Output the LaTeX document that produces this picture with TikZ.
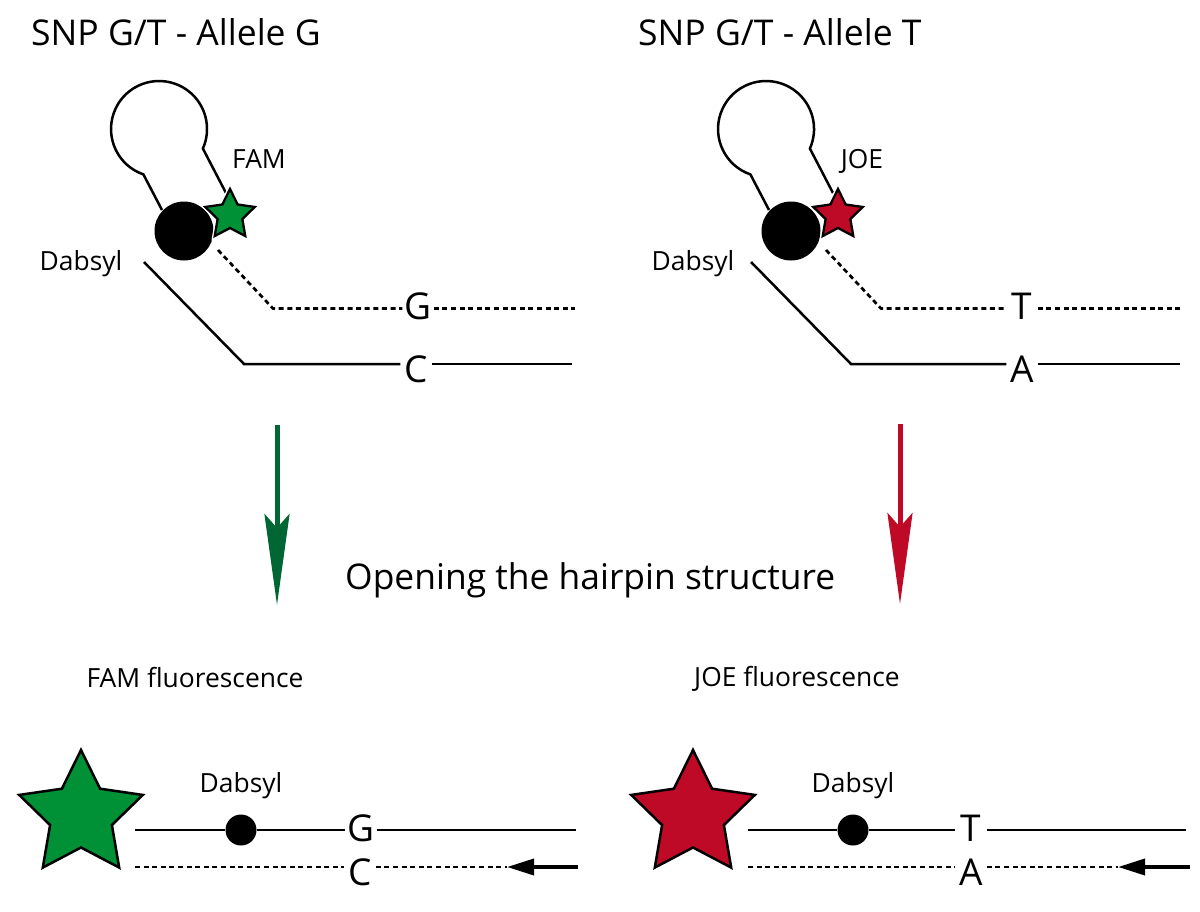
\documentclass[tikz,border=0pt]{standalone}
\usepackage{fontspec}
\setmainfont{Open Sans}
\usetikzlibrary{arrows.meta,shapes.geometric}
\definecolor{stargreen}{HTML}{009036}
\definecolor{starred}{HTML}{BE0A26}
\definecolor{arrowgreen}{HTML}{006633}
\tikzset{
  x=1pt,y=1pt,
  strand/.style={line width=2.5pt},
  dstrand/.style={line width=2.7pt,dash pattern=on 5pt off 3.6pt},
  bigtxt/.style={font=\fontsize{35.5}{40}\selectfont,anchor=base west,inner sep=0pt},
  midtxt/.style={font=\fontsize{35.4}{42}\selectfont,anchor=base west,inner sep=0pt},
  smalltxt/.style={font=\fontsize{26.4}{30}\selectfont,anchor=base,inner sep=0pt},
  letter/.style={font=\fontsize{37}{42}\selectfont,inner sep=0pt,minimum width=31pt},
  halo/.style={star,star points=5,star point ratio=2,minimum size=52pt,inner sep=0pt,draw=white,line width=5pt,fill=white},
  smallstar/.style={star,star points=5,star point ratio=2,minimum size=52pt,inner sep=0pt,draw=black,line width=2.3pt},
  bigstar/.style={star,star points=5,star point ratio=2,minimum size=130pt,inner sep=0pt,draw=black,line width=2.5pt},
  bigdot/.style={circle,fill=black,inner sep=0pt,minimum size=59pt},
  smalldot/.style={circle,fill=black,inner sep=0pt,minimum size=31pt},
  flow/.style={line width=5pt,-{Stealth[length=91pt,width=25pt,inset=14pt]}},
  primer/.style={line width=3.6pt,-{Stealth[length=27pt,width=16pt,inset=0pt]}},
}
\begin{document}
\begin{tikzpicture}
\useasboundingbox (0,-911) rectangle (1200,0);
% ---------- titles ----------
\node[bigtxt] (tl) at (31,-45) {SNP G/T - Allele G};
\node[bigtxt] (tr) at (638,-45) {SNP G/T - Allele T};
\node[midtxt] (mid) at (345,-589) {Opening the hairpin structure};
% ---------- left hairpin ----------
\draw[strand] (162,-210) -- (143.4,-174.4) arc[start angle=251,end angle=-24,delta angle=-275,radius=48] -- (226,-193);
\node[bigdot] (lq) at (184,-231) {};
\node[halo] (lh) at (230,-215) {};
\node[smallstar,fill=stargreen] (ls) at (230,-215) {};
\node[smalltxt] (lfam) at (259,-168) {FAM};
\node[smalltxt] (ldab) at (81,-270) {Dabsyl};
\node[letter] (lG) at (418,-306) {G};
\node[letter] (lC) at (416,-369) {C};
\coordinate (la) at (218,-250); \coordinate (lb) at (273,-308.5); \coordinate (lc) at (575,-308.5);
\coordinate (ld) at (144,-262); \coordinate (le) at (244,-364); \coordinate (lf) at (572,-364);
\draw[dstrand] (la) -- (lb) -- (lb -| lG.west);
\draw[dstrand] (lb -| lG.east) -- (lc);
\draw[strand] (ld) -- (le) -- (le -| lC.west);
\draw[strand] (le -| lC.east) -- (lf);
% ---------- right hairpin ----------
\draw[strand] (769,-210) -- (750.4,-174.4) arc[start angle=251,end angle=-24,delta angle=-275,radius=48] -- (833,-193);
\node[bigdot] (rq) at (791,-231) {};
\node[halo] (rh) at (838,-215) {};
\node[smallstar,fill=starred] (rs) at (838,-215) {};
\node[smalltxt] (rjoe) at (862,-168) {JOE};
\node[smalltxt] (rdab) at (693,-270) {Dabsyl};
\node[letter] (rT) at (1022,-306) {T};
\node[letter] (rA) at (1022,-369) {A};
\coordinate (ra) at (826,-250); \coordinate (rb) at (881,-308.5); \coordinate (rc) at (1182,-308.5);
\coordinate (rd) at (751,-262); \coordinate (re) at (851,-364); \coordinate (rf) at (1180,-364);
\draw[dstrand] (ra) -- (rb) -- (rb -| rT.west);
\draw[dstrand] (rb -| rT.east) -- (rc);
\draw[strand] (rd) -- (re) -- (re -| rA.west);
\draw[strand] (re -| rA.east) -- (rf);
% ---------- big arrows ----------
\coordinate (a1) at (277,-425); \coordinate (a2) at (277,-605);
\coordinate (b1) at (900,-424); \coordinate (b2) at (900,-604);
\draw[flow,arrowgreen] (a1) -- (a2);
\draw[flow,starred] (b1) -- (b2);
% ---------- lower labels ----------
\node[smalltxt] (lfl) at (195,-687) {FAM fluorescence};
\node[smalltxt] (rfl) at (797,-686) {JOE fluorescence};
\node[smalltxt] (ldb) at (241,-792) {Dabsyl};
\node[smalltxt] (rdb) at (853,-792) {Dabsyl};
% ---------- lower left ----------
\node[bigstar,fill=stargreen] (lbig) at (81,-815) {};
\node[smalldot] (ldot) at (241,-830) {};
\node[letter] (lG2) at (361,-828) {G};
\node[letter] (lC2) at (360,-872) {C};
\coordinate (l1) at (135,-830); \coordinate (l2) at (576,-830);
\coordinate (l3) at (135,-867); \coordinate (l4) at (578,-867); \coordinate (l5) at (507,-867);
\draw[strand] (l1) -- (ldot) -- (ldot -| lG2.west);
\draw[strand] (ldot -| lG2.east) -- (l2);
\draw[dstrand] (l3) -- (l3 -| lC2.west);
\draw[dstrand] (l3 -| lC2.east) -- (l5);
\draw[primer] (l4) -- (l5);
% ---------- lower right ----------
\node[bigstar,fill=starred] (rbig) at (693,-815) {};
\node[smalldot] (rdot) at (853,-830) {};
\node[letter] (rT2) at (971,-828) {T};
\node[letter] (rA2) at (971,-872) {A};
\coordinate (r1) at (748,-830); \coordinate (r2) at (1186,-830);
\coordinate (r3) at (748,-867); \coordinate (r4) at (1190,-867); \coordinate (r5) at (1118,-867);
\draw[strand] (r1) -- (rdot) -- (rdot -| rT2.west);
\draw[strand] (rdot -| rT2.east) -- (r2);
\draw[dstrand] (r3) -- (r3 -| rA2.west);
\draw[dstrand] (r3 -| rA2.east) -- (r5);
\draw[primer] (r4) -- (r5);
\end{tikzpicture}
\end{document}
